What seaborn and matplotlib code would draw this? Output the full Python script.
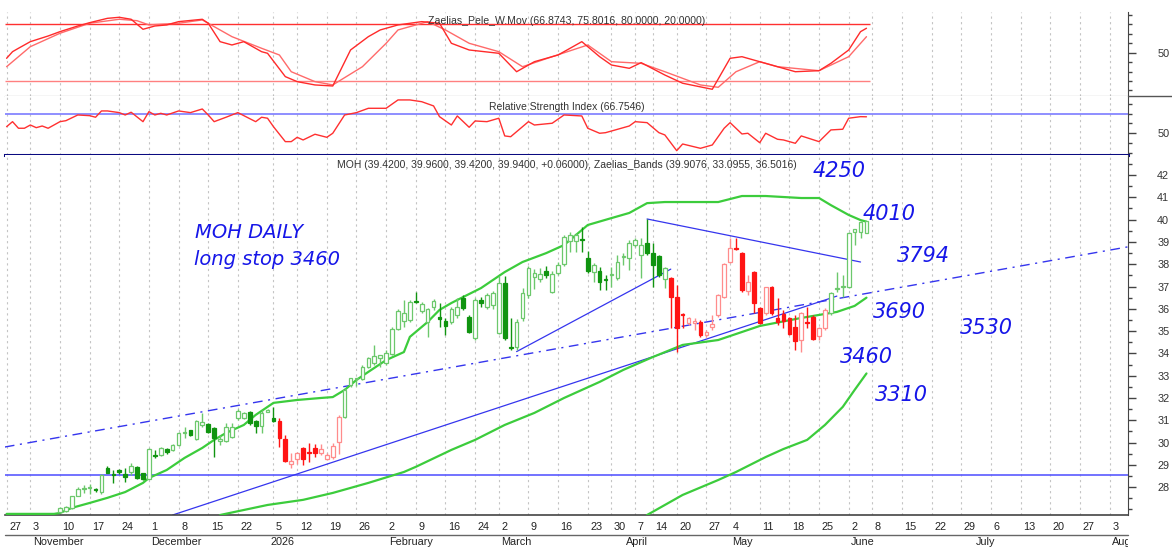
import numpy as np
import pandas as pd
import matplotlib
matplotlib.use("Agg")
import matplotlib.pyplot as plt
from matplotlib.lines import Line2D
from matplotlib.ticker import MultipleLocator
from matplotlib.transforms import blended_transform_factory, ScaledTranslation, Bbox
import seaborn as sns

# ---------------- data ----------------
# trading calendar of the chart (days the feed skipped)
missing_days = ["2025-10-31", "2025-12-24", "2025-12-25", "2025-12-26", "2026-01-01",
                "2026-01-09", "2026-02-23", "2026-03-27", "2026-04-03", "2026-04-06",
                "2026-04-10", "2026-04-13", "2026-05-01", "2026-06-01"]
first_candle = "2025-11-10"
red_runs = [("2026-01-06", "2026-01-21"), ("2026-04-17", "2026-05-26")]

opens = [26.90, 26.92, 27.05, 27.62, 27.93, 27.98, 27.90, 27.76, 28.85, 28.57,
         28.77, 28.59, 28.70, 28.92, 28.62, 28.37, 29.46, 29.44, 29.71, 29.67,
         29.89, 30.44, 30.55, 30.16, 30.79, 30.83, 30.64, 30.07, 30.09, 30.27,
         31.09, 31.09, 31.36, 30.97, 30.76, 31.39, 31.12, 30.98, 30.16, 29.04,
         29.25, 29.74, 29.53, 29.74, 29.52, 29.26, 29.37, 30.04, 31.13, 32.58,
         32.84, 32.84, 33.41, 33.55, 33.80, 33.55, 33.97, 35.08, 35.47, 35.50,
         36.36, 35.92, 35.42, 36.10, 35.62, 35.47, 35.40, 35.70, 36.50, 35.65,
         34.68, 36.40, 36.10, 36.17, 34.90, 37.14, 34.30, 34.30, 35.57, 36.62,
         37.44, 37.34, 37.70, 36.77, 37.60, 37.99, 39.04, 39.04, 39.10, 38.26,
         37.67, 37.71, 37.31, 37.50, 37.37, 38.32, 38.26, 38.86, 38.41, 38.94,
         38.49, 38.38, 37.32, 37.37, 36.51, 35.74, 35.35, 35.35, 35.42, 34.82,
         35.17, 35.72, 36.54, 38.11, 38.73, 38.49, 36.81, 37.66, 36.02, 35.80,
         36.99, 35.57, 35.77, 35.57, 35.20, 34.60, 35.42, 35.65, 34.78, 35.12,
         35.80, 36.90, 36.97, 36.96, 39.43, 39.46, 39.42]
highs = [27.10, 27.15, 27.62, 28.02, 28.10, 28.14, 27.95, 28.60, 28.95, 28.77,
         28.80, 28.85, 29.07, 28.95, 28.65, 29.75, 29.67, 29.78, 29.74, 29.92,
         30.48, 30.71, 30.58, 31.00, 31.34, 30.86, 30.71, 30.34, 30.86, 30.89,
         31.49, 31.35, 31.40, 31.01, 31.46, 31.50, 31.61, 31.09, 30.34, 29.53,
         29.59, 29.82, 29.97, 29.94, 29.94, 29.55, 29.97, 31.25, 32.45, 32.90,
         32.90, 33.48, 33.86, 34.38, 33.95, 34.15, 35.20, 35.98, 36.39, 36.39,
         36.77, 36.32, 36.02, 36.42, 36.25, 35.57, 36.10, 36.50, 36.60, 35.70,
         36.50, 36.55, 36.70, 36.80, 37.45, 37.45, 35.57, 35.55, 36.95, 37.90,
         37.80, 37.85, 37.90, 37.70, 38.10, 39.30, 39.45, 39.40, 39.68, 38.60,
         38.05, 37.89, 37.52, 37.89, 38.41, 38.49, 39.09, 39.16, 39.16, 40.03,
         38.94, 38.41, 37.89, 37.44, 37.07, 35.82, 35.65, 35.57, 35.50, 35.05,
         35.72, 36.65, 38.04, 39.16, 39.16, 38.56, 37.52, 37.69, 36.09, 36.99,
         37.02, 36.47, 35.95, 35.65, 35.72, 35.87, 36.09, 35.72, 35.20, 36.02,
         36.77, 37.66, 37.52, 39.46, 39.60, 39.96, 39.96]
lows = [26.85, 26.88, 27.00, 27.58, 27.73, 27.70, 27.78, 27.70, 28.62, 28.17,
        28.60, 28.25, 28.55, 28.35, 28.30, 28.35, 29.30, 29.40, 29.50, 29.60,
        29.85, 30.19, 30.30, 30.10, 30.71, 30.45, 29.37, 29.89, 30.04, 30.19,
        31.01, 31.05, 30.80, 30.42, 30.42, 31.35, 30.94, 29.82, 29.14, 28.86,
        29.04, 29.00, 29.14, 29.37, 29.44, 29.20, 29.25, 29.50, 31.10, 32.50,
        32.55, 32.80, 33.33, 33.48, 33.40, 33.48, 33.93, 35.05, 35.20, 35.42,
        36.24, 35.80, 34.75, 35.95, 35.17, 34.83, 35.30, 35.60, 35.95, 34.90,
        34.60, 36.10, 36.00, 36.00, 34.85, 34.60, 34.15, 34.15, 35.45, 36.50,
        36.90, 37.20, 37.40, 36.70, 37.50, 37.90, 38.56, 38.55, 38.56, 37.60,
        37.22, 36.84, 36.84, 36.99, 37.29, 37.96, 37.74, 38.79, 37.37, 38.41,
        36.99, 37.44, 36.92, 35.12, 34.08, 35.12, 35.27, 35.05, 34.75, 34.75,
        35.05, 35.65, 36.47, 38.04, 38.64, 36.77, 36.62, 35.82, 35.32, 35.72,
        35.72, 35.27, 35.12, 34.82, 34.15, 34.08, 35.12, 34.60, 34.60, 35.05,
        35.72, 36.77, 36.54, 36.92, 38.86, 39.16, 39.42]
closes = [27.05, 27.10, 27.58, 27.90, 27.97, 28.00, 27.86, 28.55, 28.65, 28.55,
          28.67, 28.44, 28.97, 28.40, 28.35, 29.71, 29.40, 29.74, 29.56, 29.89,
          30.45, 30.46, 30.34, 30.97, 30.94, 30.49, 30.19, 30.16, 30.71, 30.68,
          31.43, 31.31, 30.86, 30.76, 31.34, 31.46, 30.98, 30.19, 29.19, 29.16,
          29.52, 29.25, 29.51, 29.55, 29.70, 29.44, 29.85, 31.13, 32.36, 32.88,
          32.86, 33.40, 33.78, 33.88, 33.93, 34.00, 35.08, 35.92, 35.80, 36.29,
          36.29, 36.20, 35.97, 36.36, 35.53, 35.23, 36.00, 36.10, 36.02, 34.97,
          36.40, 36.25, 36.62, 36.70, 37.14, 34.70, 34.22, 35.42, 36.70, 37.82,
          37.60, 37.56, 37.52, 37.56, 37.96, 39.23, 39.31, 39.31, 39.08, 37.70,
          37.96, 37.22, 37.28, 37.53, 38.11, 38.35, 38.94, 39.09, 38.86, 38.49,
          37.96, 37.52, 37.81, 36.51, 35.12, 35.72, 35.57, 35.47, 34.82, 34.97,
          35.32, 36.62, 38.01, 38.71, 38.70, 36.84, 37.22, 36.24, 35.35, 36.96,
          35.80, 35.42, 35.47, 34.87, 34.57, 35.80, 35.35, 34.63, 35.12, 35.95,
          36.69, 36.93, 37.00, 39.41, 39.56, 39.91, 39.94]

# Zaelias bands (bar number, price)
upper_bar = [-9, -1, 0, 2, 5, 8, 11, 14, 15, 18, 21, 24, 26, 28, 31, 33, 36, 40, 44, 46,
             48, 50, 52, 55, 58, 59, 62, 64, 66, 68, 71, 75, 78, 82, 85, 89, 93, 96, 99,
             102, 111, 115, 119, 125, 128, 130, 133, 135, 136]
upper_val = [26.80, 26.80, 26.84, 27.07, 27.29, 27.52, 27.78, 28.19, 28.41, 28.77, 29.31,
             29.76, 30.12, 30.43, 30.79, 31.24, 31.78, 31.91, 32.00, 32.04, 32.36, 32.81,
             33.17, 33.70, 34.06, 34.74, 35.41, 35.95, 36.26, 36.53, 36.93, 37.65, 38.10,
             38.50, 38.86, 39.76, 40.07, 40.30, 40.74, 40.79, 40.79, 41.06, 41.06, 40.97,
             40.97, 40.65, 40.21, 39.98, 39.91]
mid_bar = [27, 35, 41, 46, 52, 58, 60, 66, 70, 75, 80, 85, 91, 95, 100, 105, 111, 118,
           125, 131, 134, 136]
mid_val = [26.75, 27.20, 27.43, 27.74, 28.19, 28.68, 28.91, 29.67, 30.12, 30.79, 31.33,
           32.00, 32.72, 33.26, 33.84, 34.38, 34.60, 35.23, 35.59, 35.86, 36.13, 36.50]
low_bar = [99, 105, 111, 114, 119, 122, 126, 129, 132, 134, 136]
low_val = [26.75, 27.65, 28.32, 28.68, 29.35, 29.71, 30.12, 30.79, 31.60, 32.36, 33.10]

# hand drawn trend lines (bar, price) pairs
flat_support = 28.56
channel_bar, channel_val = [-9.3, 180.1], [29.80, 38.78]
rising_bar, rising_val = [19, 131], [26.75, 36.57]
short_bar, short_val = [77, 103], [34.08, 37.78]
falling_bar, falling_val = [99, 135], [40.03, 38.10]

# Zaelias_Pele_W.Mov, fast and slow lines
pele_fast_bar = [-9, -8, -7, -5, -2, 0, 3, 5, 8, 10, 12, 14, 16, 18, 20, 24, 25, 27, 29, 31,
                 34, 35, 38, 40, 43, 46, 49, 52, 54, 57, 61, 64, 66, 69, 74, 77, 80, 84, 88,
                 91, 93, 96, 98, 102, 105, 110, 113, 115, 118, 124, 128, 130, 133, 135, 136]
pele_fast_val = [44.0, 51.0, 54.6, 61.6, 67.6, 72.2, 78.2, 81.7, 86.3, 87.4, 85.3, 74.7,
                 78.2, 79.3, 82.8, 85.3, 81.1, 61.6, 58.1, 61.6, 51.0, 49.3, 24.6, 19.3,
                 15.8, 14.7, 52.8, 66.9, 74.0, 79.3, 82.8, 81.1, 59.9, 52.8, 49.3, 29.8,
                 40.4, 47.5, 61.6, 45.7, 36.9, 33.4, 39.4, 26.3, 17.6, 11.2, 44.0, 45.7,
                 40.4, 29.8, 30.9, 38.7, 52.8, 72.2, 75.80]
pele_slow_bar = [-9, -5, 0, 5, 10, 13, 15, 20, 24, 26, 29, 34, 37, 39, 43, 46, 51, 55, 57,
                 62, 65, 69, 74, 78, 83, 89, 93, 98, 102, 108, 111, 114, 118, 121, 128, 133,
                 136]
pele_slow_val = [35.1, 56.3, 70.5, 81.1, 85.3, 83.8, 79.3, 81.1, 84.6, 77.5, 66.9, 54.6,
                 47.5, 29.8, 19.3, 15.8, 35.1, 59.9, 74.0, 82.8, 74.0, 59.9, 51.0, 35.1,
                 45.7, 58.1, 40.4, 38.7, 29.8, 15.8, 13.3, 29.8, 40.4, 35.1, 30.9, 45.7,
                 66.87]

# Relative Strength Index
rsi_bar = [-9, -8, -7, -6, -5, -4, -3, -2, 0, 1, 3, 5, 6, 7, 8, 10, 11, 12, 14, 15, 16,
           17, 18, 20, 22, 24, 25, 26, 28, 30, 33, 34, 35, 36, 38, 39, 40, 41, 43, 45, 46,
           48, 50, 52, 55, 57, 59, 61, 63, 64, 66, 67, 69, 70, 72, 74, 75, 76, 79, 80, 83,
           85, 88, 89, 91, 92, 96, 97, 99, 101, 102, 104, 105, 108, 110, 112, 113, 115,
           116, 118, 119, 121, 122, 124, 125, 128, 130, 132, 133, 135, 136]
rsi_val = [56.7, 61.8, 55.1, 55.1, 58.4, 55.7, 57.4, 55.1, 61.8, 62.8, 68.6, 67.9, 66.3,
           72.7, 72.7, 71.0, 68.6, 71.4, 61.8, 72.0, 68.6, 70.3, 68.6, 72.7, 71.0, 74.7,
           68.6, 61.8, 66.3, 71.0, 61.8, 66.3, 65.3, 56.7, 41.5, 41.5, 45.9, 43.2, 49.0,
           45.9, 50.0, 68.6, 71.0, 75.4, 75.4, 83.9, 83.9, 82.1, 77.8, 66.9, 58.4, 67.6,
           56.1, 62.5, 61.8, 65.3, 47.3, 46.5, 61.8, 58.4, 60.2, 68.6, 67.6, 55.1, 50.0,
           50.6, 57.4, 61.8, 60.8, 50.6, 48.3, 32.3, 39.1, 34.7, 38.1, 55.1, 60.8, 49.3,
           50.0, 40.4, 50.0, 43.9, 43.2, 39.8, 47.3, 41.5, 53.4, 54.1, 65.3, 66.9, 66.75]

top_title = "Zaelias_Pele_W.Mov (66.8743, 75.8016, 80.0000, 20.0000)"
rsi_title = "Relative Strength Index (66.7546)"
main_title = ("MOH (39.4200, 39.9600, 39.4200, 39.9400, +0.06000), "
              "Zaelias_Bands (39.9076, 33.0955, 36.5016)")

notes = [("MOH DAILY", 22.8, 39.53, 14), ("long stop 3460", 22.6, 38.28, 14),
         ("4250", 127.0, 42.27, 15), ("4010", 135.4, 40.34, 15),
         ("3794", 141.1, 38.46, 15), ("3690", 137.1, 35.95, 15),
         ("3530", 151.8, 35.23, 15), ("3460", 131.5, 33.93, 15),
         ("3310", 137.4, 32.22, 15)]

# ---------------- calendar / x positions ----------------
axis_days = pd.bdate_range("2025-10-27", "2026-08-07")
axis_days = axis_days[~axis_days.isin(pd.to_datetime(missing_days))]
bar_pos = np.arange(len(axis_days)) - axis_days.get_loc(pd.Timestamp(first_candle))
n = len(closes)
candle_days = axis_days[bar_pos >= 0][:n]
candle_x = np.arange(n)

cal = pd.DataFrame({"day": axis_days, "pos": bar_pos})
cal["week"] = cal["day"].dt.to_period("W")
cal["month"] = cal["day"].dt.to_period("M")
weeks = cal.groupby("week").agg(day=("day", "first"), pos=("pos", "first"),
                                last=("day", "last"))
# the week that straddles the new year carries no label on this chart
weeks = weeks[weeks["day"].dt.year == weeks["last"].dt.year]
months = cal.groupby("month").first()
months = months[months["day"].dt.day <= 7]

XMIN, XMAX = -9.27, 180.1

# ---------------- style ----------------
sns.set_style("white")
plt.rcParams["font.family"] = ["Liberation Sans", "DejaVu Sans"]

G_HOLLOW, G_FILL = "#6cc86c", "#109410"
R_HOLLOW, R_FILL = "#ff8c8c", "#ff1414"
BAND = "#3ccc3c"
BLUE = "#3535ee"
INK = "#1616e8"
AXC = "#444444"

fig = plt.figure(figsize=(11.72, 5.52), dpi=100)
L, W = 5 / 1172, 1123 / 1172
ax_top = fig.add_axes([L, 456 / 552, W, 84 / 552])
ax_rsi = fig.add_axes([L, 397 / 552, W, 59 / 552])
ax = fig.add_axes([L, 37 / 552, W, 360 / 552])

for a in (ax_top, ax_rsi, ax):
    a.set_xlim(XMIN, XMAX)
    a.set_facecolor("white")
    a.spines[["left", "top"]].set_visible(False)
    a.spines["right"].set_color(AXC)
    a.yaxis.tick_right()
    a.set_xticks(weeks["pos"].to_numpy())
    a.grid(axis="x", which="major", color="#c4c4c4", linestyle=(0, (2, 3)), lw=0.8)
    a.set_axisbelow(True)

for a in (ax_top, ax_rsi):
    a.tick_params(axis="x", length=0, labelbottom=False)

# ---------------- top panel ----------------
ax_top.set_ylim(4.1, 93.0)
ax_top.set_yticks([50])
ax_top.yaxis.set_minor_locator(MultipleLocator(10))
ax_top.spines["bottom"].set_color("#555555")
last_bar = candle_x[-1] + 0.6
ax_top.hlines(80, XMIN, last_bar, color="#ff3030", lw=1)
ax_top.hlines(20, XMIN, last_bar, color="#ff8080", lw=1)
sns.lineplot(x=pele_slow_bar, y=pele_slow_val, ax=ax_top, color="#ff6a6a", lw=1,
             estimator=None, sort=False)
sns.lineplot(x=pele_fast_bar, y=pele_fast_val, ax=ax_top, color="#ff2a2a", lw=1,
             estimator=None, sort=False)
ax_top.text(0.5, 0.893, top_title, transform=ax_top.transAxes, ha="center", va="center",
            fontsize=7.6, color="#333333")
# panel divider runs on into the price-scale margin
fig.add_artist(Line2D([1128 / 1172, 1.0], [456 / 552, 456 / 552], color="#555555",
                      lw=1))

# ---------------- RSI panel ----------------
ax_rsi.set_ylim(27.9, 87.9)
ax_rsi.set_yticks([50])
ax_rsi.yaxis.set_minor_locator(MultipleLocator(10))
ax_rsi.spines["bottom"].set_color("#0a0a80")
ax_rsi.spines["bottom"].set_linewidth(2.2)
ax_rsi.axhline(70, color="#7c7cff", lw=1.2)
sns.lineplot(x=rsi_bar, y=rsi_val, ax=ax_rsi, color="#ff3030", lw=1,
             estimator=None, sort=False)
ax_rsi.text(0.5, 0.814, rsi_title, transform=ax_rsi.transAxes, ha="center", va="center",
            fontsize=7.5, color="#333333")

# ---------------- main panel ----------------
ax.set_ylim(26.75, 42.9)
ax.set_yticks(np.arange(28, 43))
ax.yaxis.set_minor_locator(MultipleLocator(0.5))
ax.spines["bottom"].set_color(AXC)
ax.spines["bottom"].set_linewidth(1.2)

# trend lines
ax.axhline(flat_support, color="#5a5aff", lw=1.2, zorder=2)
sns.lineplot(x=channel_bar, y=channel_val, ax=ax, color=BLUE, lw=1,
             linestyle=(0, (7, 4, 1.5, 4)), estimator=None, sort=False, zorder=2)
for bx, by in ((rising_bar, rising_val), (short_bar, short_val),
               (falling_bar, falling_val)):
    sns.lineplot(x=bx, y=by, ax=ax, color=BLUE, lw=0.9, estimator=None, sort=False,
                 zorder=2)

# bands
for bx, by in ((upper_bar, upper_val), (mid_bar, mid_val), (low_bar, low_val)):
    sns.lineplot(x=bx, y=by, ax=ax, color=BAND, lw=1.6, estimator=None, sort=False,
                 zorder=3)

# candles
o = np.array(opens)
h = np.array(highs)
l = np.array(lows)
c = np.array(closes)
is_red = np.zeros(n, dtype=bool)
for start, end in red_runs:
    is_red |= (candle_days >= pd.Timestamp(start)) & (candle_days <= pd.Timestamp(end))
up = c >= o
edge = np.where(is_red, np.where(up, R_HOLLOW, R_FILL), np.where(up, G_HOLLOW, G_FILL))
face = np.where(up, "white", edge)
ax.vlines(candle_x, l, h, colors=edge, lw=1, zorder=4)
ax.bar(candle_x, np.maximum(np.abs(c - o), 0.045), bottom=np.minimum(o, c), width=0.62,
       color=face, edgecolor=edge, linewidth=0.9, zorder=5)

ax.text(0.5, 0.972, main_title, transform=ax.transAxes, ha="center", va="center",
        fontsize=7.5, color="#333333")

for txt, bx, by, fs in notes:
    ax.text(bx, by, txt, ha="left", va="center_baseline", fontsize=fs, color=INK,
            family="DejaVu Sans", style="oblique", zorder=6)

# ---------------- date strip ----------------
ax.xaxis.remove_overlapping_locs = False
ax.set_xticks(months["pos"].to_numpy(), minor=True)
ax.tick_params(axis="x", which="major", direction="out", length=14.4, width=1,
               color="#555555", labelbottom=False)
ax.tick_params(axis="x", which="minor", direction="out", length=26.6, width=1,
               color="#555555", labelbottom=False)
ax.plot([0, 1], [-20 / 360, -20 / 360], transform=ax.transAxes, color="#666666", lw=1,
        clip_on=False)

base = blended_transform_factory(ax.transData, ax.transAxes)
day_tr = base + ScaledTranslation(0.025, -0.12, fig.dpi_scale_trans)
mon_tr = base + ScaledTranslation(0.025, -0.27, fig.dpi_scale_trans)
clip = Bbox([[0, 0], [1128, 552]])
for p, d in zip(weeks["pos"], weeks["day"]):
    ax.text(p, 0, str(d.day), transform=day_tr, ha="left", va="center", fontsize=7.8,
            color="#222222", clip_on=False)
for p, d in zip(months["pos"], months["day"]):
    name = str(d.year) if d.month == 1 else d.strftime("%B")
    t = ax.text(p, 0, name, transform=mon_tr, ha="left", va="center", fontsize=7.8,
                color="#222222")
    t.set_clip_on(True)
    t.set_clip_box(clip)

# right hand price scales
for a in (ax_top, ax_rsi, ax):
    a.yaxis.set_tick_params(which="major", direction="out", length=6, width=1,
                            color=AXC, pad=15, labelsize=7.8, labelcolor="#333333",
                            right=True, labelright=True, left=False, labelleft=False)
    a.yaxis.set_tick_params(which="minor", direction="out", length=3, width=1,
                            color=AXC, right=True, left=False)
    a.set_xlabel("")
    a.set_ylabel("")

fig.savefig("out.png", dpi=100)
